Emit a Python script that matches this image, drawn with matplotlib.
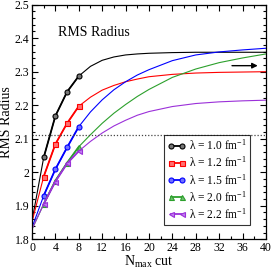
import matplotlib
matplotlib.use("Agg")
import matplotlib.pyplot as plt
from matplotlib.ticker import MultipleLocator, FuncFormatter

plt.rcParams['font.family'] = ['Liberation Serif', 'DejaVu Serif']
plt.rcParams['mathtext.fontset'] = 'custom'
plt.rcParams['mathtext.rm'] = 'Liberation Serif'
plt.rcParams['mathtext.it'] = 'Liberation Serif:italic'

# data points (Nmax = 2,4,6,8)
nmax_pts = [2, 4, 6, 8]
pts_10 = [2.044, 2.168, 2.240, 2.287]
pts_12 = [1.987, 2.084, 2.146, 2.197]
pts_15 = [1.930, 2.009, 2.074, 2.136]
pts_20 = [1.905, 1.975, 2.028, 2.076]
pts_22 = [1.905, 1.972, 2.026, 2.063]

# extrapolation curves
nmax_fit = [0, 2, 4, 6, 8, 10, 12, 14, 16, 18, 20, 24, 28, 32, 36, 40]
fit_10 = [1.855, 2.044, 2.168, 2.240, 2.287, 2.316, 2.334, 2.344, 2.350, 2.353, 2.355, 2.357, 2.358, 2.358, 2.358, 2.358]
fit_12 = [1.852, 1.987, 2.084, 2.146, 2.197, 2.224, 2.245, 2.259, 2.270, 2.278, 2.285, 2.292, 2.296, 2.298, 2.299, 2.300]
fit_15 = [1.835, 1.930, 2.009, 2.074, 2.136, 2.180, 2.216, 2.246, 2.270, 2.290, 2.306, 2.333, 2.350, 2.359, 2.365, 2.370]
fit_20 = [1.830, 1.905, 1.975, 2.028, 2.076, 2.112, 2.146, 2.176, 2.202, 2.226, 2.247, 2.283, 2.308, 2.327, 2.341, 2.353]
fit_22 = [1.830, 1.905, 1.972, 2.026, 2.063, 2.092, 2.117, 2.138, 2.155, 2.170, 2.181, 2.196, 2.205, 2.210, 2.213, 2.215]

labels = [r"λ = 1.0 fm$^{-1}$", r"λ = 1.2 fm$^{-1}$", r"λ = 1.5 fm$^{-1}$",
          r"λ = 2.0 fm$^{-1}$", r"λ = 2.2 fm$^{-1}$"]
colors = ['black', '#ff0000', '#0000ff', '#2ca02c', '#9b30d9']
faces = ['#777777', '#ff7070', '#7070ff', '#70c070', '#c080f0']
markers = ['o', 's', 'o', '^', '<']

ref_line = 2.11
arrow_y = 2.318

fig = plt.figure(figsize=(2.75, 2.73), dpi=100)
ax = fig.add_axes([0.1164, 0.1238, 0.8506, 0.859])

pts = [pts_10, pts_12, pts_15, pts_20, pts_22]
fits = [fit_10, fit_12, fit_15, fit_20, fit_22]
for p, f, c, fc, m, lab in zip(pts, fits, colors, faces, markers, labels):
    ax.plot(nmax_fit, f, color=c, lw=0.8)
    ax.plot(nmax_pts, p, color=c, lw=1.3, marker=m, ms=3.6, mfc=fc, mec=c,
            mew=0.8, label=lab)

ax.axhline(ref_line, color='#444444', lw=0.9, ls=(0, (1, 1.5)))
ax.annotate('', xy=(38.6, arrow_y), xytext=(34.2, arrow_y),
            arrowprops=dict(arrowstyle='-|>', color='black', lw=1.0,
                            mutation_scale=8, shrinkA=0, shrinkB=0))

ax.text(10.5, 2.418, "RMS Radius", ha='center', va='center', fontsize=10)

ax.set_xlim(0, 40)
ax.set_ylim(1.8, 2.5)
ax.xaxis.set_major_locator(MultipleLocator(4))
ax.xaxis.set_minor_locator(MultipleLocator(2))
ax.yaxis.set_major_locator(MultipleLocator(0.1))
ax.yaxis.set_minor_locator(MultipleLocator(0.02))
ax.yaxis.set_major_formatter(FuncFormatter(lambda v, p: '%g' % round(v, 2)))
ax.tick_params(which='both', direction='in', top=True, right=True,
               labelsize=8.5, width=0.8, pad=2)
ax.tick_params(which='major', length=4.5)
ax.tick_params(which='minor', length=2.5)
for s in ax.spines.values():
    s.set_linewidth(0.9)

ax.set_xlabel(r"N$_{\rm max}$ cut", fontsize=10, labelpad=0)
ax.set_ylabel("RMS Radius", fontsize=10, labelpad=1)

leg = ax.legend(loc='lower right', bbox_to_anchor=(0.932, 0.061),
                borderaxespad=0, fontsize=8.3, numpoints=2, frameon=True,
                fancybox=False, edgecolor='black', handlelength=1.6,
                handletextpad=0.25, labelspacing=0.22, borderpad=0.3)
leg.get_frame().set_linewidth(0.8)

fig.savefig("out.png", dpi=100)
